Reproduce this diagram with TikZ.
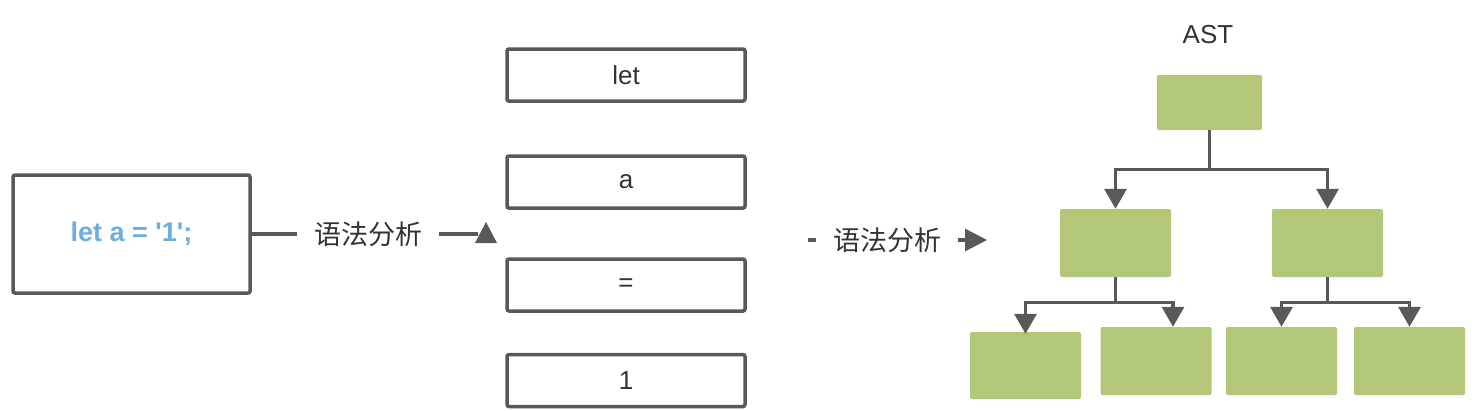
\documentclass[tikz,border=0pt]{standalone}
\usepackage{fontspec}
\setmainfont{Liberation Sans}[Ligatures=TeXOff]
\newfontfamily\cjk{Noto Sans CJK SC}
\usetikzlibrary{arrows.meta}

\definecolor{edgegray}{HTML}{595959}
\definecolor{leafgreen}{HTML}{B2C777}
\definecolor{codeblue}{HTML}{6AAEE2}
\definecolor{textgray}{HTML}{333333}

\tikzset{
  srcbox/.style={draw=edgegray, line width=3.5pt, rounded corners=2pt, inner sep=0pt},
  tokbox/.style={srcbox, minimum width=238pt, minimum height=52pt, text=textgray},
  astbox/.style={fill=leafgreen, rounded corners=2pt, inner sep=0pt, minimum width=111pt, minimum height=68pt},
  lbl/.style={fill=white, inner xsep=17pt, inner ysep=2pt, text=textgray, font=\cjk\fontsize{27}{30}\selectfont},
  link/.style={draw=edgegray, line width=3.2pt},
  branch/.style={link, -{Triangle[width=22pt,length=20pt]}},
}

\begin{document}
\begin{tikzpicture}[x=1pt, y=-1pt, font=\fontsize{26}{30}\selectfont]
  \useasboundingbox (0,0) rectangle (1478,410);

  % source code
  \node[srcbox, minimum width=237pt, minimum height=118pt, text=codeblue, font=\bfseries\fontsize{27}{30}\selectfont] (src) at (131.5,234) {let a = '1';};

  % tokens
  \node[tokbox] (tlet) at (626,75)    {let};
  \node[tokbox] (ta)   at (626,182)   {a};
  \node[tokbox] (teq)  at (626,285)   {=};
  \node[tokbox] (tone) at (626,380.5) {1};

  % first step
  \node[lbl] (lex) at (368,234) {语法分析};
  \coordinate (lexend) at (478,234);
  \draw[link] (src.east) -- (lex.west);
  \draw[link] (lex.east) -- (lexend);
  \fill[edgegray] (486,222) -- (497,243) -- (475,243) -- cycle;

  % second step
  \coordinate (parsestart) at (808,240);
  \coordinate (parseend) at (987,240);
  \node[lbl] (parse) at (887,240) {语法分析};
  \draw[link] (parsestart) -- (parse.west);
  \draw[link, -{Triangle[width=22pt,length=22pt]}] (parse.east) -- (parseend);

  % AST
  \node[text=textgray] (asttitle) at (1208,35) {AST};
  \node[astbox, minimum width=105pt, minimum height=55pt] (root) at (1209.5,102.5) {};
  \node[astbox] (midl) at (1115.5,243) {};
  \node[astbox] (midr) at (1327.5,243) {};
  \node[astbox, minimum height=67pt] (leafa) at (1025.5,365.5) {};
  \node[astbox] (leafb) at (1156,361)   {};
  \node[astbox] (leafc) at (1281.5,361) {};
  \node[astbox] (leafd) at (1409.5,361) {};

  \draw[branch] (root.south) -- ++(0,39) -| (midl.north);
  \draw[branch] (root.south) -- ++(0,39) -| (midr.north);
  \draw[branch] (midl.south) -- ++(0,25) -| ([yshift=-2pt]leafa.north);
  \draw[branch] (midl.south) -- ++(0,25) -| ([xshift=17pt]leafb.north);
  \draw[branch] (midr.south) -- ++(0,25) -| (leafc.north);
  \draw[branch] (midr.south) -- ++(0,25) -| (leafd.north);
\end{tikzpicture}
\end{document}
